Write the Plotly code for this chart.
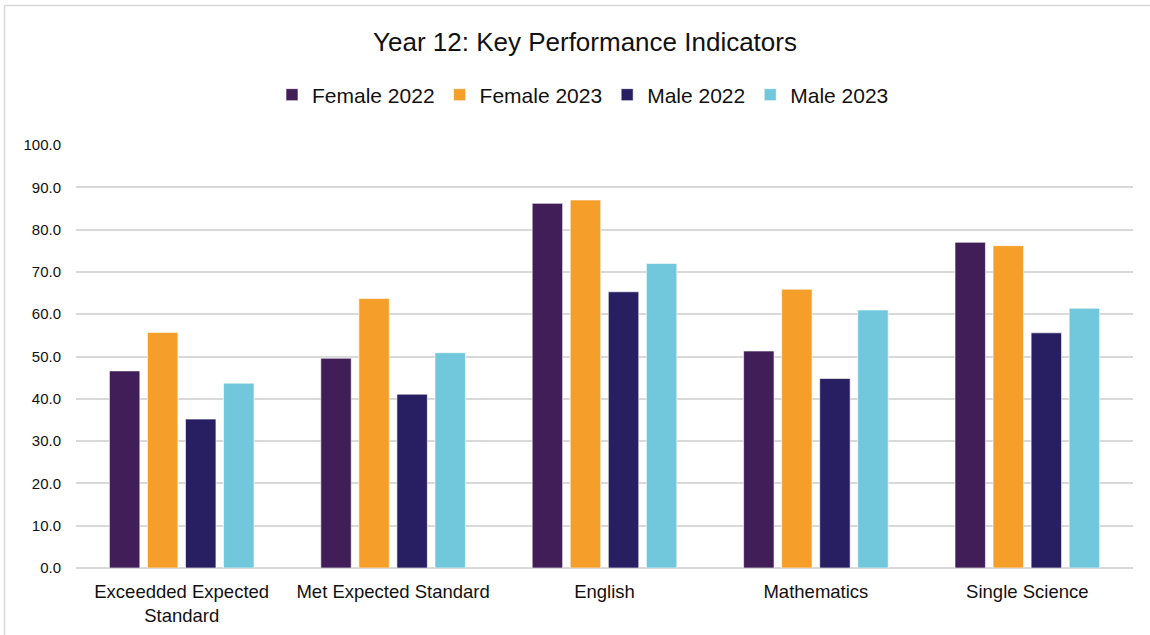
import plotly.graph_objects as go

# Categories and series values (percent)
categories = ["Exceedded Expected<br>Standard", "Met Expected Standard", "English", "Mathematics", "Single Science"]
female_2022 = [46.6, 49.6, 86.2, 51.3, 77.0]
female_2023 = [55.7, 63.7, 87.0, 65.9, 76.2]
male_2022 = [35.2, 41.1, 65.3, 44.8, 55.6]
male_2023 = [43.7, 50.9, 72.0, 61.0, 61.4]

series = [
    ("Female 2022", female_2022, "#421E58"),
    ("Female 2023", female_2023, "#F59F2A"),
    ("Male 2022", male_2022, "#281F63"),
    ("Male 2023", male_2023, "#71C7DB"),
]

W, H = 1150, 635
ML, MR, MT, MB = 76, 17, 145, 67
plot_w = W - ML - MR
plot_h = H - MT - MB

fig = go.Figure()
for name, vals, color in series:
    fig.add_trace(go.Bar(
        x=categories, y=vals, name=name,
        marker=dict(color=color, line=dict(width=1, color="rgba(255,255,255,0.6)")),
        hovertemplate="%{y:.1f}<extra>" + name + "</extra>",
    ))

# chart frame: light grey border along the top and left edges
def px_to_paper_x(px):
    return (px - ML) / plot_w

def px_to_paper_y(py):
    return (H - MB - py) / plot_h

border = dict(color="#D9D9D9", width=1.5)
fig.add_shape(type="line", xref="paper", yref="paper",
              x0=px_to_paper_x(4.5), x1=px_to_paper_x(1160),
              y0=px_to_paper_y(5.5), y1=px_to_paper_y(5.5), line=border)
fig.add_shape(type="line", xref="paper", yref="paper",
              x0=px_to_paper_x(4.5), x1=px_to_paper_x(4.5),
              y0=px_to_paper_y(5.5), y1=px_to_paper_y(640), line=border)

font_family = "Liberation Sans, Arial, sans-serif"

fig.update_layout(
    width=W, height=H,
    margin=dict(l=ML, r=MR, t=MT, b=MB),
    paper_bgcolor="white", plot_bgcolor="white",
    barmode="group", bargap=0.28, bargroupgap=0.2,
    font=dict(family=font_family, color="#000000"),
    title=dict(text="Year 12: Key Performance Indicators",
               font=dict(size=26, color="#111111", family=font_family),
               xref="container", yref="container",
               x=585 / W, xanchor="center", y=1 - 42 / H, yanchor="middle"),
    legend=dict(orientation="h", xref="container", yref="container",
                x=583 / W, xanchor="center", y=1 - 95 / H, yanchor="middle",
                font=dict(size=21, color="#111111"), itemclick=False,
                traceorder="normal"),
    xaxis=dict(showgrid=False, showline=False, ticks="", ticklabelstandoff=10,
               automargin=False,
               tickfont=dict(size=18.5, color="#111111")),
    yaxis=dict(range=[0, 100], dtick=10, tickformat=".1f",
               showgrid=True, gridcolor="#D9D9D9", gridwidth=1.5,
               zeroline=True, zerolinecolor="#D9D9D9", zerolinewidth=1.5,
               showline=False, ticks="", ticklabelstandoff=14,
               automargin=False,
               tickfont=dict(size=15, color="#111111")),
)

fig.write_html("out.html")
